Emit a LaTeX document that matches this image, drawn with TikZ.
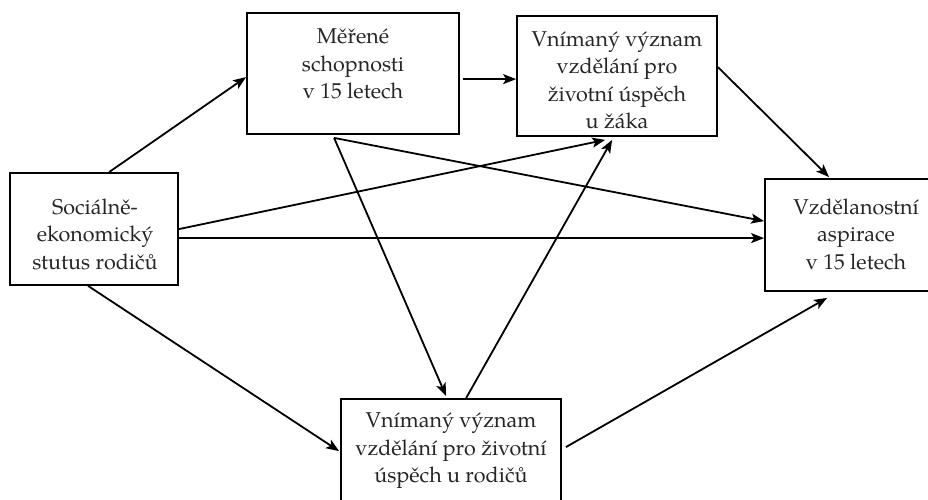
\documentclass[tikz,border=0pt]{standalone}
\usepackage{fontspec}
\setmainfont{TeX Gyre Pagella}
\usetikzlibrary{arrows.meta,calc}
\tikzset{
  box/.style={draw=black, line width=1.8pt, rectangle, inner sep=0pt, fill=white},
  txt/.style={align=center, inner sep=0pt, text=black!85,
    font=\fontsize{21.5pt}{27.5pt}\selectfont},
  arr/.style={draw=black, line width=1.8pt,
    -{Stealth[length=13pt,width=10pt,inset=3pt]}},
}
\begin{document}
\begin{tikzpicture}[x=1pt,y=-1pt]
\path[use as bounding box, fill=white] (0,0) rectangle (928,499);
\clip (0,0) rectangle (928,499);
% boxes
\node[box, minimum width=168pt, minimum height=112pt] (ses) at (94,229) {};
\node[txt] (sest) at (95,234) {Sociálně-\\ekonomický\\stutus rodičů};
\node[box, minimum width=212pt, minimum height=121pt] (ms) at (353,73.5) {};
\node[txt] (mst) at (353,64) {Měřené\\schopnosti\\v 15 letech};
\node[box, minimum width=200pt, minimum height=120pt] (zak) at (617,76) {};
\node[txt] (zakt) at (617,80) {Vnímaný význam\\vzdělání pro\\životní úspěch\\u žáka};
\node[box, minimum width=182pt, minimum height=112pt] (asp) at (856,235) {};
\node[txt] (aspt) at (856,234) {Vzdělanostní\\aspirace\\v 15 letech};
\node[box, minimum width=220pt, minimum height=106pt] (rod) at (451,452) {};
\node[txt] (rodt) at (451,451) {Vnímaný význam\\vzdělání pro životní\\úspěch u rodičů};
% connectors
\draw[arr] ($(ses.north west)+(100,0)$) -- ($(ms.north west)+(0,65)$);
\draw[arr] ($(ms.north east)+(3,67)$) -- ($(zak.north west)+(0,64)$);
\draw[arr] ($(zak.north east)+(0,52)$) -- ($(asp.north west)+(65,-1)$);
\draw[arr] ($(ses.north east)+(0,57)$) -- ($(zak.south west)+(89,3)$);
\draw[arr] ($(ses.north east)+(0,66)$) -- ($(asp.north west)+(0,60)$);
\draw[arr] ($(ms.south west)+(88,3)$) -- ($(asp.north west)+(0,43)$);
\draw[arr] ($(ms.south west)+(88,3)$) -- ($(rod.north west)+(106,-2)$);
\draw[arr] ($(rod.north west)+(126,0)$) -- ($(zak.south west)+(96,3)$);
\draw[arr] ($(ses.south west)+(79,0)$) -- ($(rod.north west)+(-1,53)$);
\draw[arr] ($(rod.north east)+(4,49)$) -- ($(asp.south west)+(63,6)$);
\end{tikzpicture}
\end{document}
